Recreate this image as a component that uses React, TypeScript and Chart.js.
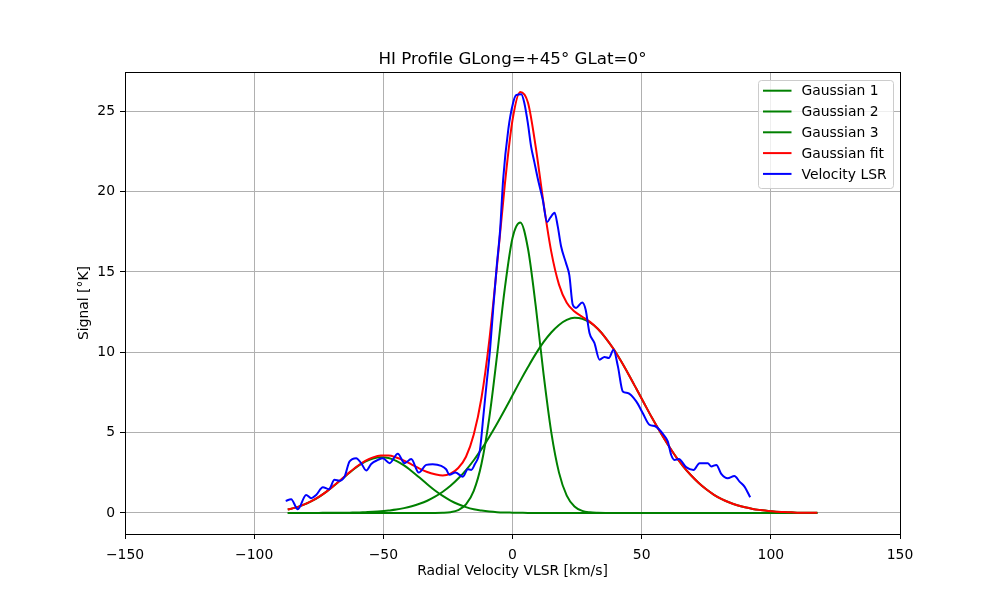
import React, { useEffect, useRef } from "react";
import { Chart, registerables } from "chart.js";

Chart.register(...registerables);

const FONT = "'DejaVu Sans', sans-serif";

// velocity grid of the fitted curves (km/s)
const fitX = [
  -87, -84, -81, -78, -75, -72, -69, -66, -63, -60, -57, -54, -51, -48, -45, -42, -39, -36, -33, -30,
  -27, -24, -21, -18, -15, -12, -9, -6, -3, 0, 3, 6, 9, 12, 15, 18, 21, 24, 27, 30,
  33, 36, 39, 42, 45, 48, 51, 54, 57, 60, 63, 66, 69, 72, 75, 78, 81, 84, 87, 90,
  93, 96, 99, 102, 105, 108, 111, 114, 117, 118,
];

const gauss1 = [
  0.21, 0.33, 0.5, 0.72, 0.99, 1.33, 1.71, 2.11, 2.52, 2.89, 3.19, 3.39, 3.47, 3.42, 3.24, 2.96, 2.6, 2.2, 1.79, 1.4,
  1.06, 0.77, 0.54, 0.36, 0.23, 0.15, 0.09, 0.05, 0.03, 0.02, 0.01, 0, 0, 0, 0, 0, 0, 0, 0, 0,
  0, 0, 0, 0, 0, 0, 0, 0, 0, 0, 0, 0, 0, 0, 0, 0, 0, 0, 0, 0,
  0, 0, 0, 0, 0, 0, 0, 0, 0, 0,
];

const gauss2 = [
  0, 0, 0, 0, 0, 0, 0, 0, 0, 0, 0, 0, 0, 0, 0, 0, 0, 0, 0, 0,
  0.01, 0.05, 0.18, 0.53, 1.37, 3.06, 5.9, 9.77, 13.94, 17.11, 18.08, 16.44, 12.87, 8.67, 5.03, 2.51, 1.08, 0.4, 0.13, 0.04,
  0.01, 0, 0, 0, 0, 0, 0, 0, 0, 0, 0, 0, 0, 0, 0, 0, 0, 0, 0, 0,
  0, 0, 0, 0, 0, 0, 0, 0, 0, 0,
];

const gauss3 = [
  0, 0, 0, 0, 0, 0.01, 0.01, 0.01, 0.02, 0.03, 0.05, 0.07, 0.1, 0.15, 0.21, 0.3, 0.42, 0.57, 0.76, 1.01,
  1.32, 1.69, 2.14, 2.67, 3.28, 3.97, 4.73, 5.55, 6.42, 7.32, 8.22, 9.08, 9.9, 10.63, 11.23, 11.7, 12.01, 12.14, 12.08, 11.85,
  11.46, 10.9, 10.23, 9.45, 8.6, 7.71, 6.81, 5.92, 5.08, 4.29, 3.56, 2.92, 2.36, 1.88, 1.47, 1.13, 0.86, 0.65, 0.48, 0.35,
  0.25, 0.18, 0.12, 0.08, 0.06, 0.04, 0.02, 0.02, 0.01, 0.01,
];

const gaussFit = [
  0.21, 0.33, 0.5, 0.72, 1.0, 1.33, 1.72, 2.13, 2.54, 2.92, 3.24, 3.46, 3.57, 3.57, 3.45, 3.26, 3.01, 2.76, 2.55, 2.41,
  2.33, 2.45, 2.8, 3.5, 4.88, 7.17, 10.71, 15.37, 20.39, 24.44, 26.2, 25.53, 22.77, 19.29, 16.26, 14.21, 13.08, 12.53, 12.21, 11.89,
  11.46, 10.9, 10.23, 9.45, 8.6, 7.71, 6.81, 5.92, 5.08, 4.29, 3.56, 2.92, 2.36, 1.88, 1.47, 1.13, 0.86, 0.65, 0.48, 0.35,
  0.25, 0.18, 0.12, 0.08, 0.06, 0.04, 0.02, 0.02, 0.01, 0.01,
];

// measured profile
const lsrX = [
  -87.8, -85.7, -83.1, -79.9, -77.9, -76.0, -73.4, -71.1, -68.9, -67.0, -65.0, -63.1, -60.5, -58.6, -56.6, -54.7, -52.1, -50.2, -47.6, -44.4,
  -41.8, -39.2, -36.3, -33.4, -30.9, -27.6, -25.7, -24.4, -22.1, -19.2, -17.3, -16.0, -14.7, -12.6, -11.3, -10.0, -8.7, -7.4, -6.1, -4.8,
  -3.6, -1.6, 0.2, 1.4, 3.4, 4.6, 5.9, 7.2, 8.5, 9.8, 11.7, 13.4, 14.6, 16.3, 17.5, 18.8, 20.8, 22.0, 23.3, 24.6,
  27.0, 28.3, 29.8, 31.7, 33.7, 35.6, 37.3, 39.1, 40.8, 42.7, 44.6, 47.9, 50.4, 53.0, 55.4, 58.5, 60.1, 61.4, 62.7, 64.4,
  67.2, 70.1, 72.4, 75.6, 76.9, 78.9, 80.8, 83.3, 85.9, 87.9, 89.8, 92.0,
];
const lsrY = [
  0.75, 0.85, 0.23, 1.12, 0.92, 1.12, 1.6, 1.48, 2.06, 2.0, 2.26, 3.2, 3.41, 3.1, 2.64, 3.05, 3.3, 3.41, 3.1, 3.68,
  3.1, 3.35, 2.51, 2.99, 3.03, 2.93, 2.72, 2.37, 2.51, 2.26, 2.72, 2.68, 3.0, 3.93, 6.0, 8.09, 10.16, 12.86, 15.36, 17.6,
  20.8, 23.9, 25.5, 26.0, 26.06, 25.5, 24.3, 22.8, 21.8, 20.8, 19.5, 18.1, 18.37, 18.68, 17.85, 16.6, 15.5, 14.8, 12.97, 12.76,
  13.1, 12.66, 11.2, 10.58, 9.54, 9.71, 9.64, 10.16, 9.12, 7.56, 7.46, 6.94, 6.22, 5.49, 5.38, 4.86, 4.45, 3.62, 3.3, 3.35,
  2.85, 2.68, 3.1, 3.1, 2.89, 2.99, 2.43, 2.16, 2.3, 1.95, 1.64, 0.98,
];

const xTicks = [-150, -100, -50, 0, 50, 100, 150];
const xTickLabels = ["\u2212150", "\u2212100", "\u221250", "0", "50", "100", "150"];
const yTicks = [0, 5, 10, 15, 20, 25];
const yTickLabels = ["0", "5", "10", "15", "20", "25"];

const toPoints = (xs: number[], ys: number[]) => xs.map((x, i) => ({ x, y: ys[i] }));

const lineDs = (label: string, color: string, data: { x: number; y: number }[], order: number) => ({
  label,
  data,
  borderColor: color,
  backgroundColor: color,
  borderWidth: 2,
  pointRadius: 0,
  fill: false,
  cubicInterpolationMode: "monotone" as const,
  order,
});

// frame, title and a matplotlib-like legend
const decorations = {
  id: "decorations",
  afterDatasetsDraw(chart: any) {
    const { ctx, chartArea: a } = chart;
    ctx.save();
    ctx.strokeStyle = "#000";
    ctx.lineWidth = 1;
    ctx.strokeRect(Math.round(a.left) + 0.5, Math.round(a.top) + 0.5, Math.round(a.right - a.left), Math.round(a.bottom - a.top));
    ctx.restore();
  },
  afterDraw(chart: any) {
    const { ctx, chartArea: a } = chart;
    ctx.save();
    ctx.fillStyle = "#000";
    ctx.font = `16.7px ${FONT}`;
    ctx.textAlign = "center";
    ctx.textBaseline = "alphabetic";
    ctx.fillText("HI Profile GLong=+45\u00b0 GLat=0\u00b0", (a.left + a.right) / 2, 64);

    const lx = 758.5, ly = 80.5, lw = 135, lh = 108;
    ctx.beginPath();
    ctx.roundRect(lx, ly, lw, lh, 3);
    ctx.fillStyle = "rgba(255,255,255,0.8)";
    ctx.fill();
    ctx.strokeStyle = "#cccccc";
    ctx.lineWidth = 1;
    ctx.stroke();

    ctx.font = `13.9px ${FONT}`;
    ctx.textAlign = "left";
    ctx.textBaseline = "middle";
    chart.data.datasets.forEach((ds: any, i: number) => {
      const y = 90.7 + i * 20.8;
      ctx.beginPath();
      ctx.moveTo(763, y);
      ctx.lineTo(791.5, y);
      ctx.strokeStyle = ds.borderColor;
      ctx.lineWidth = 2;
      ctx.stroke();
      ctx.fillStyle = "#000";
      ctx.fillText(ds.label, 801.5, y + 1);
    });
    ctx.restore();
  },
};

export default function App() {
  const canvasRef = useRef<HTMLCanvasElement>(null);

  useEffect(() => {
    const chart = new Chart(canvasRef.current as HTMLCanvasElement, {
      type: "line",
      data: {
        datasets: [
          lineDs("Gaussian 1", "#008000", toPoints(fitX, gauss1), 5),
          lineDs("Gaussian 2", "#008000", toPoints(fitX, gauss2), 4),
          lineDs("Gaussian 3", "#008000", toPoints(fitX, gauss3), 3),
          lineDs("Gaussian fit", "#ff0000", toPoints(fitX, gaussFit), 2),
          lineDs("Velocity LSR", "#0000ff", toPoints(lsrX, lsrY), 1),
        ],
      },
      options: {
        animation: false,
        responsive: false,
        devicePixelRatio: 1,
        layout: { padding: { left: 0, right: 100, top: 72, bottom: 0 } },
        plugins: {
          legend: { display: false },
          title: { display: false },
          tooltip: { enabled: false },
        },
        scales: {
          x: {
            type: "linear",
            min: -150,
            max: 150,
            afterBuildTicks: (s: any) => {
              s.ticks = xTicks.map((v) => ({ value: v }));
            },
            afterFit: (s: any) => {
              s.height = 66;
            },
            border: { display: false },
            grid: { color: "#b0b0b0", lineWidth: 1, tickColor: "#000", tickLength: 5 },
            ticks: {
              color: "#000",
              font: { family: FONT, size: 13.9 },
              padding: 8,
              maxRotation: 0,
              autoSkip: false,
              callback: (v: any) => xTickLabels[xTicks.indexOf(Number(v))],
            },
            title: {
              display: true,
              text: "Radial Velocity VLSR [km/s]",
              color: "#000",
              font: { family: FONT, size: 13.9 },
              padding: { top: 0, bottom: 20 },
            },
          },
          y: {
            type: "linear",
            min: -1.31,
            max: 27.44,
            afterBuildTicks: (s: any) => {
              s.ticks = yTicks.map((v) => ({ value: v }));
            },
            afterFit: (s: any) => {
              s.width = 125;
            },
            border: { display: false },
            grid: { color: "#b0b0b0", lineWidth: 1, tickColor: "#000", tickLength: 5 },
            ticks: {
              color: "#000",
              font: { family: FONT, size: 13.9 },
              padding: 5,
              callback: (v: any) => yTickLabels[yTicks.indexOf(Number(v))],
            },
            title: {
              display: true,
              text: "Signal [\u00b0K]",
              color: "#000",
              font: { family: FONT, size: 13.9 },
              padding: { top: 76, bottom: 0 },
            },
          },
        },
      },
      plugins: [decorations],
    });
    return () => chart.destroy();
  }, []);

  return (
    <div style={{ position: "absolute", left: 0, top: 0, width: 1000, height: 600, background: "#fff" }}>
      <canvas ref={canvasRef} width={1000} height={600} />
    </div>
  );
}
